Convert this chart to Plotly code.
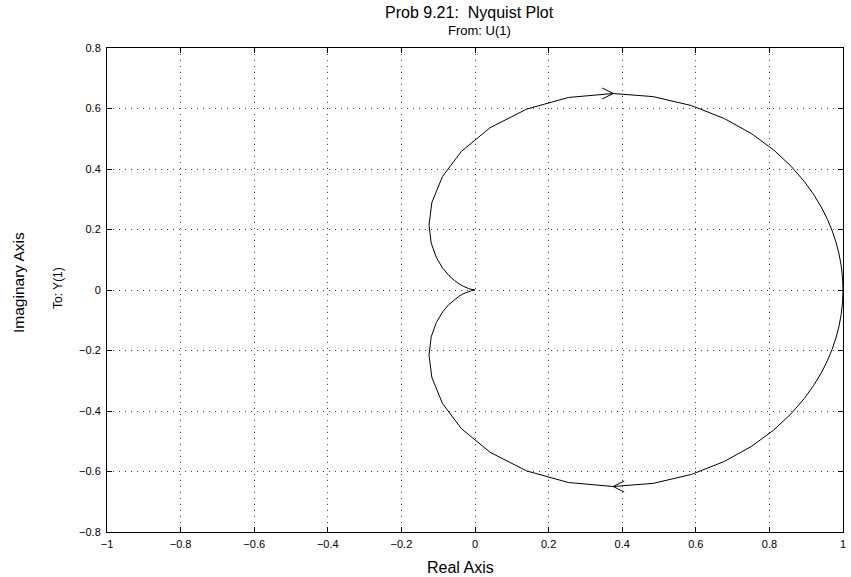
import plotly.graph_objects as go

# Nyquist curve vertices (positive-frequency branch: real part and |imag| part),
# ordered from omega = 0 (point 1+0j) towards omega -> infinity (origin)
re_vals = [1.0, 0.9988, 0.9952, 0.9893, 0.9810, 0.9705, 0.9578, 0.9423, 0.9219,
           0.8948, 0.8589, 0.8118, 0.7524, 0.6778, 0.5879, 0.4842, 0.3755,
           0.2541, 0.1403, 0.0407, -0.0370, -0.0882, -0.1172, -0.1250, -0.1190,
           -0.1050, -0.0879, -0.0709, -0.0557, -0.0426, -0.0320, -0.0241,
           -0.0177, -0.0133, -0.0097, -0.0050, -0.0025, 0.0]
im_mag = [0.0, 0.0400, 0.0797, 0.1191, 0.1580, 0.1961, 0.2332, 0.2711, 0.3127,
          0.3588, 0.4091, 0.4628, 0.5161, 0.5667, 0.6098, 0.6392, 0.6496,
          0.6365, 0.5980, 0.5363, 0.4583, 0.3755, 0.2894, 0.2145, 0.1548,
          0.1072, 0.0723, 0.0478, 0.0312, 0.0199, 0.0125, 0.0080,
          0.0050, 0.0032, 0.0020, 0.0007, 0.00025, 0.0]
arrow_idx = 16  # vertex where the direction arrows sit

x_ticks = [-1, -0.8, -0.6, -0.4, -0.2, 0, 0.2, 0.4, 0.6, 0.8, 1]
y_ticks = [-0.8, -0.6, -0.4, -0.2, 0, 0.2, 0.4, 0.6, 0.8]

FONT = "Liberation Sans"

# negative frequencies (upper half): from origin to 1
x_neg = list(reversed(re_vals))
y_neg = list(reversed(im_mag))
# positive frequencies (lower half): from 1 to origin
x_pos = re_vals
y_pos = [-v for v in im_mag]

fig = go.Figure()
fig.add_trace(go.Scatter(x=x_neg + x_pos[1:], y=y_neg + y_pos[1:], mode="lines",
                         line=dict(color="black", width=1), hoverinfo="skip",
                         showlegend=False))

# open "V" arrowheads (pixel-sized, anchored at the data vertex)
ax_x = re_vals[arrow_idx]
for yv, direction in [(im_mag[arrow_idx], -1), (-im_mag[arrow_idx], 1)]:
    for side in (-1, 1):
        fig.add_shape(type="line", xref="x", yref="y",
                      xsizemode="pixel", ysizemode="pixel",
                      xanchor=ax_x, yanchor=yv,
                      x0=0, y0=0, x1=11 * direction, y1=5.5 * side,
                      line=dict(color="black", width=1))

axis_common = dict(showline=True, linecolor="black", linewidth=1, mirror="ticks",
                   ticks="inside", ticklen=5, tickcolor="black", tickwidth=1,
                   showgrid=True, gridcolor="#444", gridwidth=1, griddash="1px,5px",
                   zeroline=False, tickfont=dict(family=FONT, size=11, color="black"))

fig.update_xaxes(range=[-1, 1], tickvals=x_ticks, ticklabelstandoff=2, **axis_common)
fig.update_yaxes(range=[-0.8, 0.8], tickvals=y_ticks, ticklabelstandoff=3, **axis_common)

fig.update_layout(width=851, height=577, margin=dict(l=107, r=5, t=48, b=45),
                  plot_bgcolor="white", paper_bgcolor="white", showlegend=False,
                  font=dict(family=FONT, color="black"))

fig.add_annotation(text="Prob 9.21:  Nyquist Plot", xref="paper", yref="paper",
                   x=0.5, y=1, yshift=36, xshift=-6, showarrow=False,
                   font=dict(size=16, family=FONT), yanchor="middle")
fig.add_annotation(text="From: U(1)", xref="paper", yref="paper",
                   x=0.5, y=1, yshift=18, xshift=4, showarrow=False,
                   font=dict(size=13, family=FONT), yanchor="middle")
fig.add_annotation(text="Real Axis", xref="paper", yref="paper",
                   x=0.5, y=0, yshift=-35, xshift=-15, showarrow=False,
                   font=dict(size=16, family=FONT), yanchor="middle")
fig.add_annotation(text="Imaginary Axis", xref="paper", yref="paper",
                   x=0, y=0.5, xshift=-89, yshift=7, textangle=-90, showarrow=False,
                   font=dict(size=15.5, family=FONT), xanchor="center")
fig.add_annotation(text="To: Y(1)", xref="paper", yref="paper",
                   x=0, y=0.5, xshift=-49, yshift=2, textangle=-90, showarrow=False,
                   font=dict(size=12, family=FONT), xanchor="center")

fig.write_html("out.html")
